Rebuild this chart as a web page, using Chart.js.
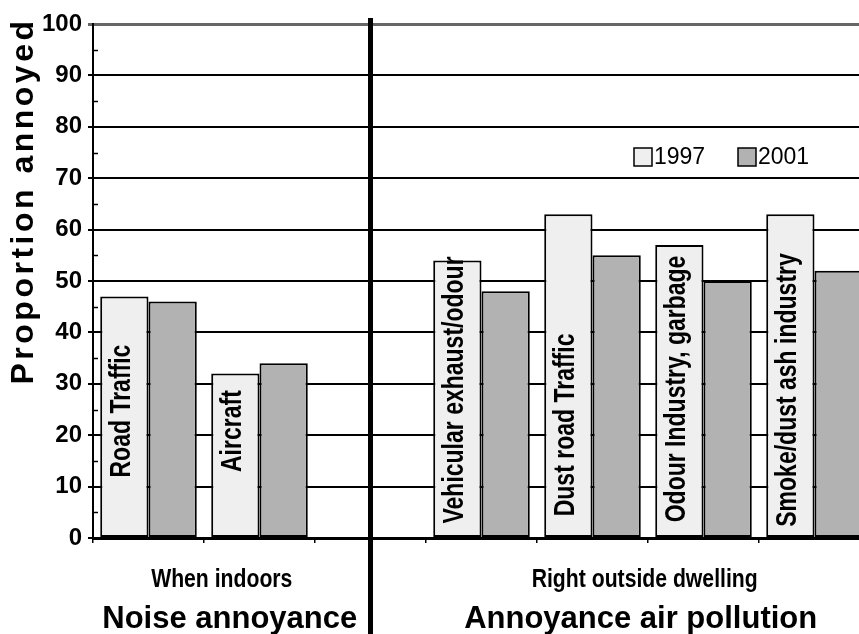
<!DOCTYPE html>
<html lang="en">
<head>
    <meta charset="UTF-8">
    <title>Proportion annoyed</title>
    <script src="https://cdn.jsdelivr.net/npm/chart.js@4.4.0/dist/chart.umd.min.js"></script>
    <style>
        html, body {margin: 0; padding: 0; background: #fff; overflow: hidden;}
        #chart {display: block;}
    </style>
</head>
<body>
    <canvas id="chart" width="875" height="634"></canvas>
    <script>
        // data
        const categories = ['Road Traffic', 'Aircraft', '', 'Vehicular exhaust/odour', 'Dust road Traffic', 'Odour Industry, garbage', 'Smoke/dust ash industry'];
        const values1997 = [47, 32, null, 54, 63, 57, 63];
        const values2001 = [46, 34, null, 48, 55, 50, 52];
        const seriesNames = ['1997', '2001'];
        const yTickValues = [0, 10, 20, 30, 40, 50, 60, 70, 80, 90, 100];
        const groupLabels = ['When indoors', 'Right outside dwelling'];
        const groupTitles = ['Noise annoyance', 'Annoyance air pollution'];
        const yTitle = 'Proportion annoyed';

        const FONT = "'Liberation Sans', Arial, sans-serif";

        // all the extra drawing: minor ticks, separator, labels in bars, legend, group labels
        const extras = {
            id: 'extras',
            afterDatasetsDraw(chart, args, opts) {
                const ctx = chart.ctx;
                const area = chart.chartArea;
                const x = chart.scales.x;
                const y = chart.scales.y;
                ctx.save();

                // minor ticks on the y axis
                ctx.strokeStyle = '#000';
                ctx.lineWidth = 1.5;
                for (let v = 5; v < 100; v += 10) {
                    const py = Math.round(y.getPixelForValue(v)) + 0.5;
                    ctx.beginPath();
                    ctx.moveTo(area.left, py);
                    ctx.lineTo(area.left + 5, py);
                    ctx.stroke();
                }

                // thick separator in the empty category
                const sx = x.getPixelForValue(2);
                ctx.lineWidth = 5;
                ctx.beginPath();
                ctx.moveTo(sx, area.top - 6);
                ctx.lineTo(sx, chart.height);
                ctx.stroke();

                // labels inside the 1997 bars
                const meta = chart.getDatasetMeta(0);
                ctx.fillStyle = '#000';
                ctx.font = 'bold 23px ' + FONT;
                ctx.textAlign = 'center';
                ctx.textBaseline = 'middle';
                meta.data.forEach((bar, i) => {
                    if (!categories[i]) return;
                    const cy = y.getPixelForValue(opts.labelAt[i]);
                    ctx.save();
                    ctx.translate(bar.x - 2, cy);
                    ctx.rotate(-Math.PI / 2);
                    ctx.scale(1, 1.25);
                    ctx.fillText(categories[i], 0, 0);
                    ctx.restore();
                });

                // legend inside the plot
                const colors = chart.data.datasets.map(d => d.backgroundColor);
                let lx = opts.legendX;
                const ly = opts.legendY;
                ctx.font = '23px ' + FONT;
                ctx.textAlign = 'left';
                ctx.textBaseline = 'middle';
                seriesNames.forEach((name, i) => {
                    ctx.fillStyle = colors[i];
                    ctx.fillRect(lx, ly - 9, 18, 18);
                    ctx.lineWidth = 1.5;
                    ctx.strokeStyle = '#000';
                    ctx.strokeRect(lx, ly - 9, 18, 18);
                    ctx.fillStyle = '#000';
                    ctx.fillText(name, lx + 20, ly + 1);
                    lx += 104;
                });

                // group labels under the axis
                ctx.textAlign = 'center';
                ctx.textBaseline = 'alphabetic';
                groupLabels.forEach((g, i) => {
                    const gx = x.getPixelForValue(opts.groupAt[i]);
                    ctx.save();
                    ctx.translate(gx, area.bottom + 49);
                    ctx.scale(0.815, 1);
                    ctx.font = 'bold 26px ' + FONT;
                    ctx.fillText(g, 0, 0);
                    ctx.restore();
                    ctx.font = 'bold 31px ' + FONT;
                    ctx.fillText(groupTitles[i], gx + opts.titleShift[i], area.bottom + 90);
                });

                // y axis title
                ctx.save();
                ctx.translate(24, (area.top + area.bottom) / 2 - 80);
                ctx.rotate(-Math.PI / 2);
                ctx.font = 'bold 32px ' + FONT;
                ctx.letterSpacing = '3.5px';
                ctx.textAlign = 'center';
                ctx.textBaseline = 'middle';
                ctx.fillText(yTitle, 0, 0);
                ctx.restore();

                ctx.restore();
            }
        };

        const ctx = document.getElementById('chart');
        new Chart(ctx, {
            type: 'bar',
            data: {
                labels: categories,
                datasets: [{
                    label: seriesNames[0],
                    data: values1997,
                    backgroundColor: '#efefef',
                    borderColor: '#000',
                    borderWidth: 2,
                    borderSkipped: false
                }, {
                    label: seriesNames[1],
                    data: values2001,
                    backgroundColor: '#b2b2b2',
                    borderColor: '#000',
                    borderWidth: 2,
                    borderSkipped: false
                }]
            },
            options: {
                responsive: false,
                animation: false,
                layout: {padding: {top: 24, right: 5, left: 0, bottom: 0}},
                datasets: {bar: {categoryPercentage: 0.87, barPercentage: 1}},
                plugins: {
                    legend: {display: false},
                    tooltip: {enabled: false},
                    extras: {
                        labelAt: [24.7, 20.8, 0, 28.8, 22, 29, 28.8],
                        legendX: 634,
                        legendY: 157,
                        groupAt: [0.66, 4.47],
                        titleShift: [8, -4]
                    }
                },
                scales: {
                    x: {
                        grid: {drawOnChartArea: false, drawTicks: true, tickLength: 5, offset: true, color: '#000', lineWidth: 1.5},
                        border: {color: '#000', width: 3},
                        ticks: {display: false},
                        afterFit(scale) { scale.height = 96; }
                    },
                    y: {
                        min: 0,
                        max: 100,
                        afterBuildTicks(scale) { scale.ticks = yTickValues.map(v => ({value: v})); },
                        grid: {
                            color: c => c.tick && c.tick.value === 100 ? '#666' : '#000',
                            lineWidth: c => c.tick && c.tick.value === 100 ? 3 : 2,
                            tickLength: 5
                        },
                        border: {color: '#000', width: 2},
                        ticks: {
                            padding: 6,
                            color: '#000',
                            font: {family: FONT, size: 24, weight: 'bold'}
                        },
                        afterFit(scale) { scale.width = 93; }
                    }
                }
            },
            plugins: [extras]
        });
    </script>
</body>
</html>
